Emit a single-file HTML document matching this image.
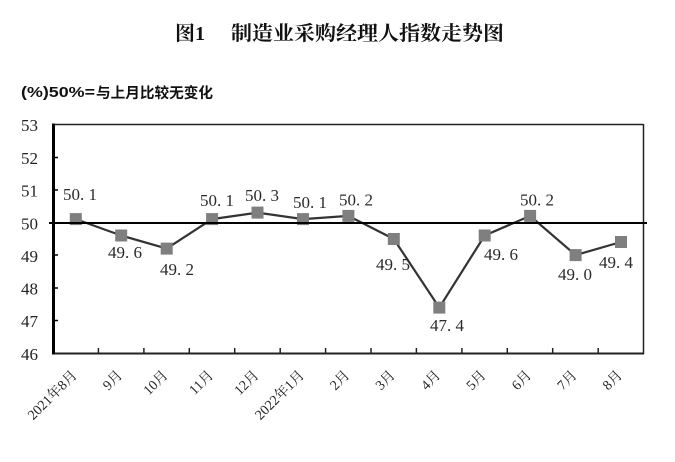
<!DOCTYPE html>
<html>
<head>
<meta charset="utf-8">
<style>
  html,body{margin:0;padding:0;background:#fff;}
  svg{display:block;}
</style>
</head>
<body>
<svg width="675" height="462" viewBox="0 0 675 462" xmlns="http://www.w3.org/2000/svg">
  <rect x="0" y="0" width="675" height="462" fill="#fff"/>
  <!-- Title -->
  <g font-family="'Noto Serif CJK SC','Liberation Serif',serif" font-weight="bold" font-size="20" fill="#111">
    <text x="175" y="40">图</text>
    <text x="195" y="40" font-family="'Liberation Serif','Noto Serif CJK SC',serif">1</text>
    <text x="231" y="40" textLength="273" lengthAdjust="spacingAndGlyphs">制造业采购经理人指数走势图</text>
  </g>
  <!-- Subtitle -->
  <g font-weight="bold" fill="#111">
    <text x="21" y="97" font-family="'Liberation Sans Narrow','Liberation Sans',sans-serif" font-size="15" textLength="74" lengthAdjust="spacingAndGlyphs">(%)50%=</text>
    <text x="96" y="98" font-family="'Noto Sans CJK SC','WenQuanYi Zen Hei',sans-serif" font-size="14.5" textLength="117" lengthAdjust="spacingAndGlyphs">与上月比较无变化</text>
  </g>

  <!-- Plot frame -->
  <line x1="53" y1="124.5" x2="643.5" y2="124.5" stroke="#222" stroke-width="1.5"/>
  <line x1="643.5" y1="124" x2="643.5" y2="354" stroke="#222" stroke-width="1.5"/>
  <line x1="53" y1="353.5" x2="644" y2="353.5" stroke="#222" stroke-width="2"/>
  <line x1="53.5" y1="123.5" x2="53.5" y2="354.5" stroke="#000" stroke-width="3"/>

  <!-- Y ticks -->
  <g stroke="#000" stroke-width="1.5">
    <line x1="53" y1="157.5" x2="58" y2="157.5"/>
    <line x1="53" y1="190" x2="58" y2="190"/>
    <line x1="53" y1="255" x2="58" y2="255"/>
    <line x1="53" y1="288" x2="58" y2="288"/>
    <line x1="53" y1="320.5" x2="58" y2="320.5"/>
  </g>
  <!-- X ticks -->
  <g stroke="#222" stroke-width="1.5">
    <line x1="98.4" y1="353" x2="98.4" y2="348"/>
    <line x1="143.9" y1="353" x2="143.9" y2="348"/>
    <line x1="189.3" y1="353" x2="189.3" y2="348"/>
    <line x1="234.7" y1="353" x2="234.7" y2="348"/>
    <line x1="280.2" y1="353" x2="280.2" y2="348"/>
    <line x1="325.6" y1="353" x2="325.6" y2="348"/>
    <line x1="371" y1="353" x2="371" y2="348"/>
    <line x1="416.4" y1="353" x2="416.4" y2="348"/>
    <line x1="461.9" y1="353" x2="461.9" y2="348"/>
    <line x1="507.3" y1="353" x2="507.3" y2="348"/>
    <line x1="552.7" y1="353" x2="552.7" y2="348"/>
    <line x1="598.2" y1="353" x2="598.2" y2="348"/>
  </g>

  <!-- Y labels -->
  <g font-family="'Liberation Serif',serif" font-size="17" fill="#222" text-anchor="end">
    <text x="38" y="131">53</text>
    <text x="38" y="164">52</text>
    <text x="38" y="196.5">51</text>
    <text x="38" y="229.5">50</text>
    <text x="38" y="262">49</text>
    <text x="38" y="294.5">48</text>
    <text x="38" y="327">47</text>
    <text x="38" y="360">46</text>
  </g>

  <!-- Series -->
  <polyline fill="none" stroke="#333" stroke-width="2.2" stroke-linejoin="miter"
    points="75.8,219.1 121.2,235.5 166.7,248.6 212.1,219.1 257.5,212.6 303,219.1 348.4,215.9 393.8,239 439.3,307.6 484.7,235.5 530.1,215.9 575.6,255.1 621,242"/>
  <g fill="#7f7f7f">
    <rect x="69.8" y="213.1" width="12" height="12"/>
    <rect x="115.2" y="229.5" width="12" height="12"/>
    <rect x="160.7" y="242.6" width="12" height="12"/>
    <rect x="206.1" y="213.1" width="12" height="12"/>
    <rect x="251.5" y="206.6" width="12" height="12"/>
    <rect x="297" y="213.1" width="12" height="12"/>
    <rect x="342.4" y="209.9" width="12" height="12"/>
    <rect x="387.8" y="233" width="12" height="12"/>
    <rect x="433.3" y="301.6" width="12" height="12"/>
    <rect x="478.7" y="229.5" width="12" height="12"/>
    <rect x="524.1" y="209.9" width="12" height="12"/>
    <rect x="569.6" y="249.1" width="12" height="12"/>
    <rect x="615" y="236" width="12" height="12"/>
  </g>

  <!-- 50 line -->
  <line x1="49" y1="223" x2="647" y2="223" stroke="#000" stroke-width="2"/>

  <!-- Data labels -->
  <g font-family="'Liberation Serif',serif" font-size="17" fill="#2a2a2a" text-anchor="middle">
    <text x="80" y="200">50. 1</text>
    <text x="125" y="258">49. 6</text>
    <text x="177" y="275">49. 2</text>
    <text x="217" y="206">50. 1</text>
    <text x="262" y="201">50. 3</text>
    <text x="310" y="208">50. 1</text>
    <text x="356" y="205.5">50. 2</text>
    <text x="393" y="270">49. 5</text>
    <text x="447" y="331">47. 4</text>
    <text x="501" y="260">49. 6</text>
    <text x="537" y="205.5">50. 2</text>
    <text x="575" y="280">49. 0</text>
    <text x="616" y="268">49. 4</text>
  </g>

  <!-- X labels -->
  <g font-family="'Liberation Serif','Noto Serif CJK SC',serif" font-size="14" fill="#222" text-anchor="end">
    <text transform="translate(77.8,376) rotate(-45)">2021年8月</text>
    <text transform="translate(123.2,376) rotate(-45)">9月</text>
    <text transform="translate(168.7,376) rotate(-45)">10月</text>
    <text transform="translate(214.1,376) rotate(-45)">11月</text>
    <text transform="translate(259.5,376) rotate(-45)">12月</text>
    <text transform="translate(305,376) rotate(-45)">2022年1月</text>
    <text transform="translate(350.4,376) rotate(-45)">2月</text>
    <text transform="translate(395.8,376) rotate(-45)">3月</text>
    <text transform="translate(441.3,376) rotate(-45)">4月</text>
    <text transform="translate(486.7,376) rotate(-45)">5月</text>
    <text transform="translate(532.1,376) rotate(-45)">6月</text>
    <text transform="translate(577.6,376) rotate(-45)">7月</text>
    <text transform="translate(623,376) rotate(-45)">8月</text>
  </g>
</svg>
</body>
</html>
